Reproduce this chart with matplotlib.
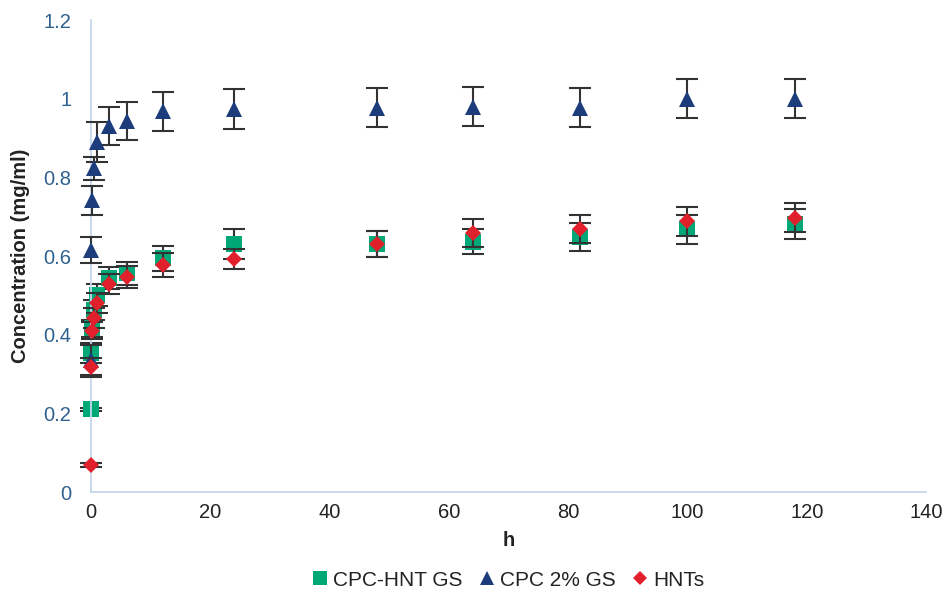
import matplotlib.pyplot as plt
from matplotlib.ticker import FuncFormatter

plt.rcParams['font.family'] = ['Liberation Sans', 'DejaVu Sans']

# tiempos (h)
horas = [0, 0.083, 0.25, 0.5, 1, 3, 6, 12, 24, 48, 64, 82, 100, 118]

# CPC-HNT GS
hnt_gs = [0.21, 0.353, 0.416, 0.463, 0.50, 0.543, 0.556, 0.594, 0.630, 0.630, 0.637, 0.648, 0.668, 0.682]
hnt_gs_err = [0.004, 0.025, 0.022, 0.025, 0.028, 0.028, 0.03, 0.032, 0.038, 0.033, 0.033, 0.035, 0.037, 0.038]

# CPC 2% GS
cpc_gs = [0.336, 0.615, 0.742, 0.823, 0.89, 0.93, 0.943, 0.968, 0.974, 0.977, 0.980, 0.977, 1.0, 1.0]
cpc_gs_err = [0.038, 0.033, 0.037, 0.03, 0.05, 0.048, 0.048, 0.049, 0.051, 0.05, 0.05, 0.05, 0.05, 0.05]

# HNTs
hnts = [0.069, 0.317, 0.41, 0.442, 0.481, 0.529, 0.547, 0.578, 0.592, 0.630, 0.658, 0.668, 0.688, 0.698]
hnts_err = [0.005, 0.025, 0.022, 0.025, 0.025, 0.025, 0.028, 0.031, 0.026, 0.033, 0.036, 0.036, 0.038, 0.037]

fig = plt.figure(figsize=(9.44, 5.9), dpi=100)
ax = fig.add_axes([0.0964, 0.166, 0.8846, 0.8])

series = [
    (hnt_gs, hnt_gs_err, 's', '#00a878', 11.5, 'CPC-HNT GS'),
    (cpc_gs, cpc_gs_err, '^', '#1c3c7c', 12, 'CPC 2% GS'),
    (hnts, hnts_err, 'D', '#e0202a', 8.5, 'HNTs'),
]
z = 2
for valores, err, marca, color, tam, nombre in series:
    eb = ax.errorbar(horas, valores, yerr=err, fmt='none', ecolor='#333333',
                     elinewidth=1.5, capsize=8, capthick=1.5, zorder=z)
    for parte in eb.lines[1] + eb.lines[2]:
        parte.set_clip_on(False)
    ax.plot(horas, valores, linestyle='none', marker=marca, color=color,
            markersize=tam, markeredgewidth=0, label=nombre, zorder=z + 0.5,
            clip_on=False)
    z += 1

ax.set_xlim(0, 140)
ax.set_ylim(0, 1.2)
ax.set_xticks(range(0, 141, 20))
ax.set_yticks([0, 0.2, 0.4, 0.6, 0.8, 1.0, 1.2])
ax.yaxis.set_major_formatter(FuncFormatter(lambda v, p: f'{v:g}'))

for lado in ['top', 'right']:
    ax.spines[lado].set_visible(False)
for lado in ['left', 'bottom']:
    ax.spines[lado].set_color('#c5d7ea')
    ax.spines[lado].set_linewidth(1.3)

ax.tick_params(axis='both', length=0, labelsize=14.5)
ax.tick_params(axis='y', colors='#2f6190', pad=14)
ax.tick_params(axis='x', colors='#222222', pad=8)

ax.set_xlabel('h', fontsize=14.5, fontweight='bold', color='#222222', labelpad=6)
ax.set_ylabel('Concentration (mg/ml)', fontsize=14.5, fontweight='bold',
              color='#222222', labelpad=10)

fig.legend(loc='lower center', bbox_to_anchor=(0.537, -0.031), ncol=3, frameon=False,
           fontsize=15, handletextpad=0.1, columnspacing=0.7, handlelength=1.0,
           markerscale=0.85, labelcolor='#222222')

fig.savefig('out.png', dpi=100)
